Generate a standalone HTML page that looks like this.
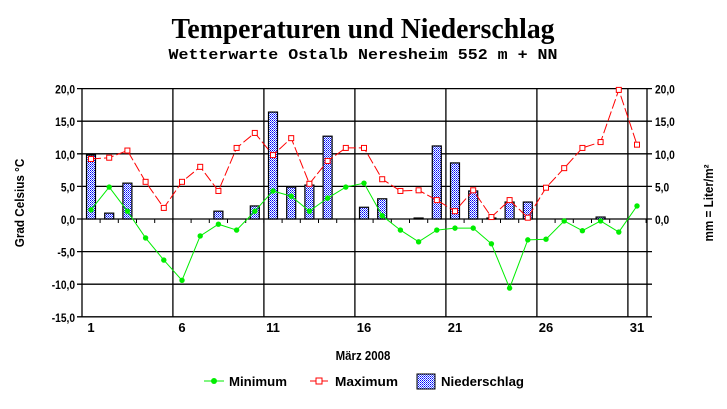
<!DOCTYPE html>
<html><head><meta charset="utf-8"><style>
html,body{margin:0;padding:0;background:#fff;}
svg text{font-family:"Liberation Sans",sans-serif;font-weight:bold;}
</style></head><body>
<svg id="c" width="727" height="404" xmlns="http://www.w3.org/2000/svg">
<defs>
<pattern id="dots" width="2" height="2" patternUnits="userSpaceOnUse">
<rect width="2" height="2" fill="#fff"/><rect width="1" height="1" fill="#0000ff"/><rect x="1" y="1" width="1" height="1" fill="#4060ff"/>
</pattern>
</defs>
<text x="363" y="38" text-anchor="middle" style="font-family:'Liberation Serif',serif" font-size="29" textLength="383" lengthAdjust="spacingAndGlyphs">Temperaturen und  Niederschlag</text>
<text x="363" y="59" text-anchor="middle" style="font-family:'Liberation Mono',monospace;font-weight:bold" font-size="15" textLength="389" lengthAdjust="spacingAndGlyphs">Wetterwarte Ostalb Neresheim 552 m + NN</text>
<g id="g"></g>
</svg>
<script>
var g=document.getElementById('g');var s='';
function X(d){return 91+(d-1)*18.2;}
function Y(v){return 219-v*6.52;}
var mx=[9.2,9.4,10.5,5.7,1.7,5.7,8,4.3,10.9,13.2,9.8,12.4,5.4,8.9,10.9,10.9,6.1,4.3,4.4,2.9,1.2,4.4,0.3,2.9,0.2,4.8,7.8,10.9,11.8,19.8,11.4];
var mn=[1.4,4.9,1.2,-2.9,-6.3,-9.4,-2.6,-0.8,-1.7,1.2,4.3,3.5,1.2,3.2,4.9,5.5,0.5,-1.7,-3.5,-1.7,-1.4,-1.4,-3.8,-10.6,-3.2,-3.1,-0.3,-1.8,-0.3,-2.0,2.0];
var pr={1:9.8,2:0.9,3:5.5,8:1.2,10:2.0,11:16.4,12:4.9,13:5.2,14:12.7,16:1.8,17:3.1,19:0.15,20:11.2,21:8.6,22:4.3,23:0.15,24:2.6,25:2.6,29:0.3};
for(var v=-15;v<=20;v+=5){var y=Y(v);s+='<line x1="77" x2="652" y1="'+y+'" y2="'+y+'" stroke="#000" stroke-width="1.3"/>';
s+='<text x="75" y="'+(y+5)+'" text-anchor="end" font-size="12" transform="translate(75 0) scale(0.85 1) translate(-75 0)">'+(v.toFixed(1).replace('.',','))+'</text>';
if(v>=0)s+='<text x="655" y="'+(y+5)+'" font-size="12" transform="translate(655 0) scale(0.85 1) translate(-655 0)">'+(v.toFixed(1).replace('.',','))+'</text>';}
for(var k=0;k<6;k++){var x=X(5.5+5*k);s+='<line x1="'+x+'" x2="'+x+'" y1="'+Y(20)+'" y2="'+Y(-15)+'" stroke="#000" stroke-width="1.3"/>';}
s+='<line x1="82" x2="82" y1="'+Y(20)+'" y2="'+Y(-15)+'" stroke="#000" stroke-width="1.3"/>';
s+='<line x1="647" x2="647" y1="'+Y(20)+'" y2="'+Y(-15)+'" stroke="#000" stroke-width="1.3"/>';
for(var d=1;d<=31;d++){var x=X(d+0.5);s+='<line x1="'+x+'" x2="'+x+'" y1="219" y2="223" stroke="#000"/>';}
[1,6,11,16,21,26,31].forEach(function(d){s+='<text x="'+X(d)+'" y="332" text-anchor="middle" font-size="13">'+d+'</text>';});
for(var d in pr){var h=pr[d]*6.52;s+='<rect x="'+(X(+d)-4.5)+'" y="'+(219-h)+'" width="9" height="'+h+'" fill="url(#dots)" stroke="#000" stroke-width="1.2"/>';}
var p1='',p2='';for(var i=0;i<31;i++){p1+=X(i+1)+','+Y(mx[i])+' ';p2+=X(i+1)+','+Y(mn[i])+' ';}
s+='<polyline points="'+p1+'" fill="none" stroke="#ff0000" stroke-width="1" stroke-dasharray="10,3"/>';
s+='<polyline points="'+p2+'" fill="none" stroke="#00ee00" stroke-width="1"/>';
for(var i=0;i<31;i++){s+='<rect x="'+(X(i+1)-2.5)+'" y="'+(Y(mx[i])-2.5)+'" width="5" height="5" fill="#fff" stroke="#ff0000" stroke-width="1"/>';
s+='<circle cx="'+X(i+1)+'" cy="'+Y(mn[i])+'" r="2.7" fill="#00ee00"/>';}
s+='<text x="363" y="360" text-anchor="middle" font-size="13" transform="translate(363 0) scale(0.88 1) translate(-363 0)">März 2008</text>';
s+='<text transform="translate(24 203) rotate(-90) scale(0.9 1)" text-anchor="middle" font-size="13">Grad Celsius °C</text>';
s+='<text transform="translate(713 203) rotate(-90) scale(0.9 1)" text-anchor="middle" font-size="13">mm = Liter/m²</text>';
s+='<line x1="204" x2="224" y1="381" y2="381" stroke="#00ee00"/><circle cx="214" cy="381" r="3" fill="#00ee00"/>';
s+='<text x="229" y="386" font-size="13" textLength="58" lengthAdjust="spacingAndGlyphs">Minimum</text>';
s+='<line x1="310" x2="328" y1="381" y2="381" stroke="#ff0000"/><rect x="316" y="378" width="6" height="6" fill="#fff" stroke="#ff0000"/>';
s+='<text x="335" y="386" font-size="13" textLength="63" lengthAdjust="spacingAndGlyphs">Maximum</text>';
s+='<rect x="417" y="374" width="18" height="15" fill="url(#dots)" stroke="#000"/>';
s+='<text x="441" y="386" font-size="13" textLength="83" lengthAdjust="spacingAndGlyphs">Niederschlag</text>';
g.innerHTML=s;
</script>
</body></html>
